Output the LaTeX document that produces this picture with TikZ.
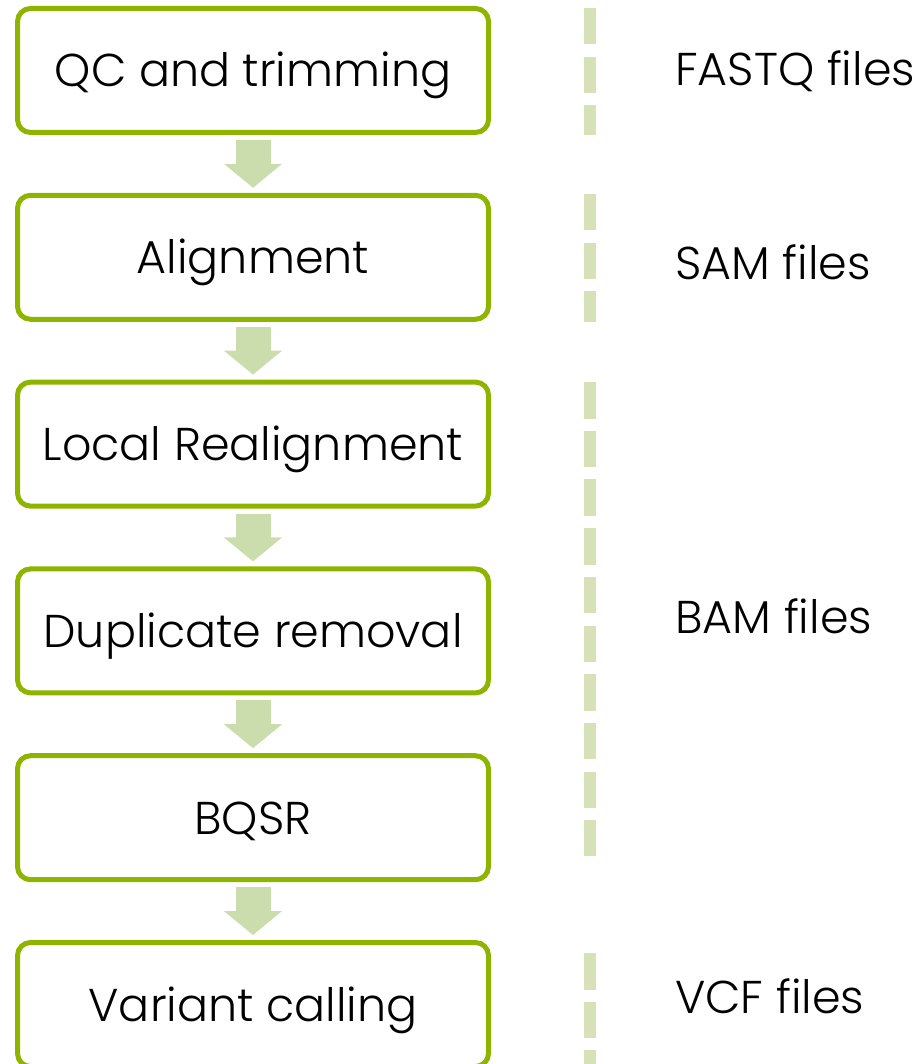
\documentclass[tikz,border=0pt]{standalone}
\usepackage{fontspec}
\setmainfont{Poppins}[UprightFont=* Light]
\usepackage{xcolor}
\usetikzlibrary{positioning, arrows.meta, calc}

\definecolor{boxgreen}{RGB}{143,180,0}
\definecolor{arrowgreen}{RGB}{204,221,173}
\definecolor{dashgreen}{RGB}{214,225,183}

\begin{document}
\begin{tikzpicture}[x=1pt, y=-1pt,
          stepbox/.style={draw=boxgreen, line width=5pt, rounded corners=13pt,
            minimum width=471pt, minimum height=124pt, inner sep=0pt,
            text height=33pt, text depth=0pt, font=\fontsize{46}{50}\selectfont},
          filelabel/.style={anchor=west, inner sep=0pt, text height=33pt,
            text depth=0pt, font=\fontsize{46}{50}\selectfont},
          flow/.style={draw=arrowgreen, line width=35pt,
            -{Triangle[width=57pt,length=24pt]}, shorten <=5pt, shorten >=5pt},
          divider/.style={draw=dashgreen, line width=12pt,
            dash pattern=on 36.5pt off 12.2pt}]
          \useasboundingbox (0,0) rectangle (921,1064);

          % pipeline steps
          \node[stepbox] (qc) at (253,70.5) {QC and trimming};
          \node[stepbox] (align) at (253,257.3) {Alignment};
          \node[stepbox] (realign) at (253,444.1) {Local Realignment};
          \node[stepbox] (dedup) at (253,630.9) {Duplicate removal};
          \node[stepbox] (bqsr) at (253,817.7) {BQSR};
          \node[stepbox] (calling) at (253,1004.5) {Variant calling};

          \draw[flow] (qc) -- (align);
          \draw[flow] (align) -- (realign);
          \draw[flow] (realign) -- (dedup);
          \draw[flow] (dedup) -- (bqsr);
          \draw[flow] (bqsr) -- (calling);

          % file formats
          \coordinate (fq top) at (589.5,8);
          \coordinate (fq bot) at (589.5,135);
          \coordinate (sam top) at (589.5,194);
          \coordinate (sam bot) at (589.5,322);
          \coordinate (bam top) at (589.5,382);
          \coordinate (bam bot) at (589.5,856);
          \coordinate (vcf top) at (589.5,953);
          \coordinate (vcf bot) at (589.5,1070);

          \draw[divider] (fq top) -- (fq bot);
          \draw[divider] (sam top) -- (sam bot);
          \draw[divider] (bam top) -- (bam bot);
          \draw[divider] (vcf top) -- (vcf bot);

          \node[filelabel] (fastq) at (675,69) {FASTQ files};
          \node[filelabel] (sam) at (675,263) {SAM files};
          \node[filelabel] (bam) at (675,617) {BAM files};
          \node[filelabel] (vcf) at (675,997) {VCF files};
        \end{tikzpicture}
\end{document}
